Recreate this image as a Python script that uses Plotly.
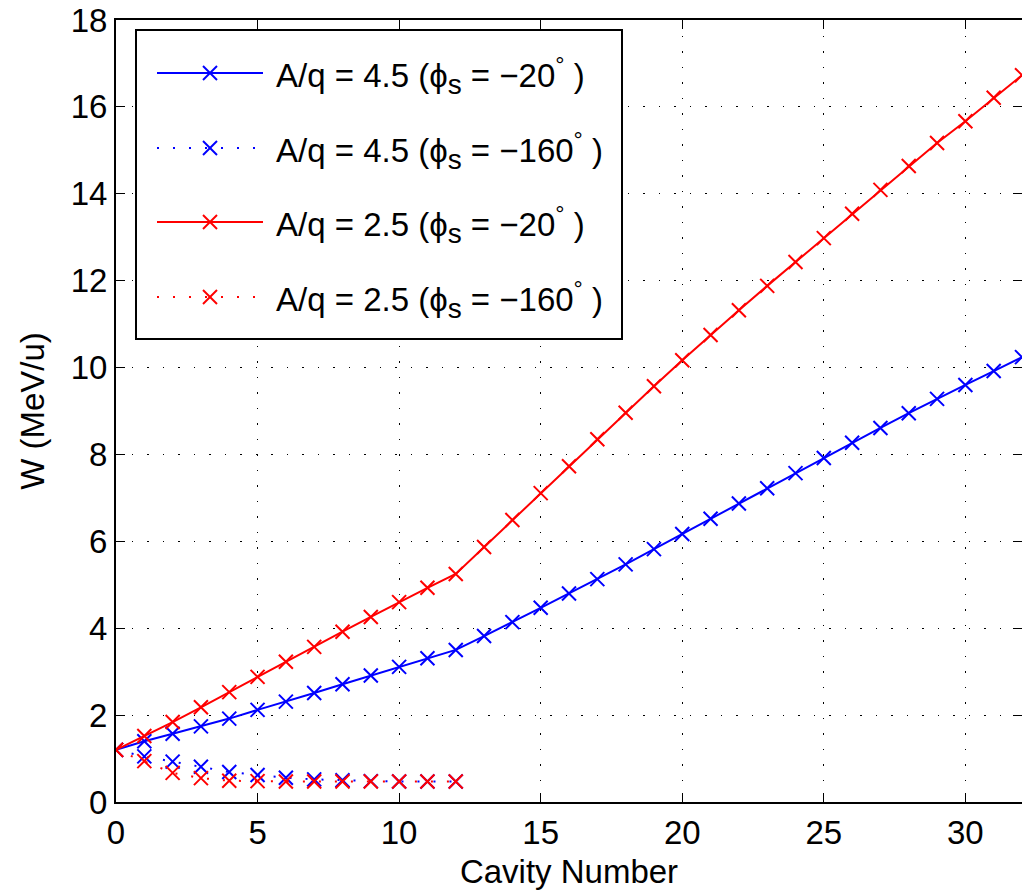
import plotly.graph_objects as go

# ---------------- data ----------------
cavity = list(range(0, 33))
w_45_m20 = [1.20, 1.40, 1.57, 1.74, 1.92, 2.12, 2.31, 2.51, 2.71, 2.91, 3.11, 3.31, 3.50,
            3.82, 4.14, 4.47, 4.80, 5.13, 5.47, 5.82, 6.17, 6.52, 6.87, 7.22, 7.57, 7.92,
            8.27, 8.61, 8.95, 9.28, 9.60, 9.92, 10.24]
w_25_m20 = [1.20, 1.52, 1.84, 2.18, 2.53, 2.88, 3.23, 3.57, 3.92, 4.26, 4.60, 4.93, 5.25,
            5.87, 6.49, 7.11, 7.73, 8.35, 8.96, 9.57, 10.17, 10.75, 11.32, 11.88, 12.43, 12.98,
            13.54, 14.09, 14.64, 15.17, 15.67, 16.21, 16.73]
cavity_short = list(range(0, 13))
w_45_m160 = [1.20, 1.05, 0.93, 0.81, 0.69, 0.62, 0.56, 0.52, 0.50, 0.48, 0.47, 0.47, 0.47]
w_25_m160 = [1.20, 0.94, 0.67, 0.55, 0.49, 0.48, 0.47, 0.47, 0.47, 0.47, 0.47, 0.47, 0.47]

SUB = "<sub><span style='font-size:28px'>s</span></sub>"
legend_labels = [
    "A/q = 4.5 (ϕ" + SUB + " = −20<sup>°</sup> )",
    "A/q = 4.5 (ϕ" + SUB + " = −160<sup>°</sup> )",
    "A/q = 2.5 (ϕ" + SUB + " = −20<sup>°</sup> )",
    "A/q = 2.5 (ϕ" + SUB + " = −160<sup>°</sup> )",
]
legend_colors = ["#0000FF", "#0000FF", "#FF0000", "#FF0000"]
legend_dash = ["solid", "2px,14px", "solid", "2px,14px"]

BLUE = "#0000FF"
RED = "#FF0000"
FONT = "Liberation Sans, Arial, Helvetica, sans-serif"
DOT = "2px,14px"
FS = 33

W, H = 1022, 894
L, R, T, B = 116, 0, 20, 92


def px2paper(x, y):
    return (x - L) / (W - L - R), (H - B - y) / (H - B - T)


def trace(x, y, color, dash):
    return go.Scatter(
        x=x, y=y, mode="lines+markers",
        line=dict(color=color, width=2, dash=dash),
        marker=dict(symbol="x-thin", size=14, color=color,
                    line=dict(color=color, width=2)),
        showlegend=False, hoverinfo="skip",
    )


fig = go.Figure()
fig.add_trace(trace(cavity, w_45_m20, BLUE, "solid"))
fig.add_trace(trace(cavity_short, w_45_m160, BLUE, DOT))
fig.add_trace(trace(cavity, w_25_m20, RED, "solid"))
fig.add_trace(trace(cavity_short, w_25_m160, RED, DOT))

# ---------------- custom legend ----------------
shapes = []
annotations = []
x0, y0 = px2paper(136, 30)
x1, y1 = px2paper(622, 339)
shapes.append(dict(type="rect", xref="paper", yref="paper", x0=x0, y0=y1, x1=x1, y1=y0,
                   fillcolor="white", line=dict(color="black", width=2), layer="above"))
rows = [73, 148, 222, 297]
for ry, lab, col, dsh in zip(rows, legend_labels, legend_colors, legend_dash):
    ax0, ay = px2paper(157, ry)
    ax1, _ = px2paper(263, ry)
    shapes.append(dict(type="line", xref="paper", yref="paper", x0=ax0, y0=ay, x1=ax1, y1=ay,
                       line=dict(color=col, width=2, dash=dsh), layer="above"))
    # X marker glyph
    mx0, my0 = px2paper(203, ry - 7)
    mx1, my1 = px2paper(217, ry + 7)
    shapes.append(dict(type="line", xref="paper", yref="paper", x0=mx0, y0=my0, x1=mx1, y1=my1,
                       line=dict(color=col, width=2), layer="above"))
    shapes.append(dict(type="line", xref="paper", yref="paper", x0=mx0, y0=my1, x1=mx1, y1=my0,
                       line=dict(color=col, width=2), layer="above"))
    tx, ty = px2paper(274, ry + 3)
    annotations.append(dict(xref="paper", yref="paper", x=tx, y=ty, text=lab, showarrow=False,
                            xanchor="left", yanchor="middle",
                            font=dict(family=FONT, size=FS, color="black")))

axis_common = dict(
    showline=True, linecolor="black", linewidth=2, mirror="ticks",
    ticks="inside", ticklen=9, tickwidth=1, tickcolor="black",
    showgrid=True, gridcolor="black", gridwidth=1, griddash="1.5px,14px",
    zeroline=False,
    tickfont=dict(family=FONT, size=FS, color="black"),
)

fig.update_layout(
    width=W, height=H,
    margin=dict(l=L, r=R, t=T, b=B, pad=0),
    paper_bgcolor="white", plot_bgcolor="white",
    font=dict(family=FONT, size=FS, color="black"),
    xaxis=dict(range=[0, 32], dtick=5, tick0=0,
               title=dict(text="Cavity Number", font=dict(family=FONT, size=FS), standoff=10),
               automargin=False, **axis_common),
    yaxis=dict(range=[0, 18], dtick=2, tick0=0,
               title=dict(text="W (MeV/u)", font=dict(family=FONT, size=FS), standoff=16),
               automargin=False, **axis_common),
    shapes=shapes,
    annotations=annotations,
    showlegend=False,
)

fig.write_html("out.html")
